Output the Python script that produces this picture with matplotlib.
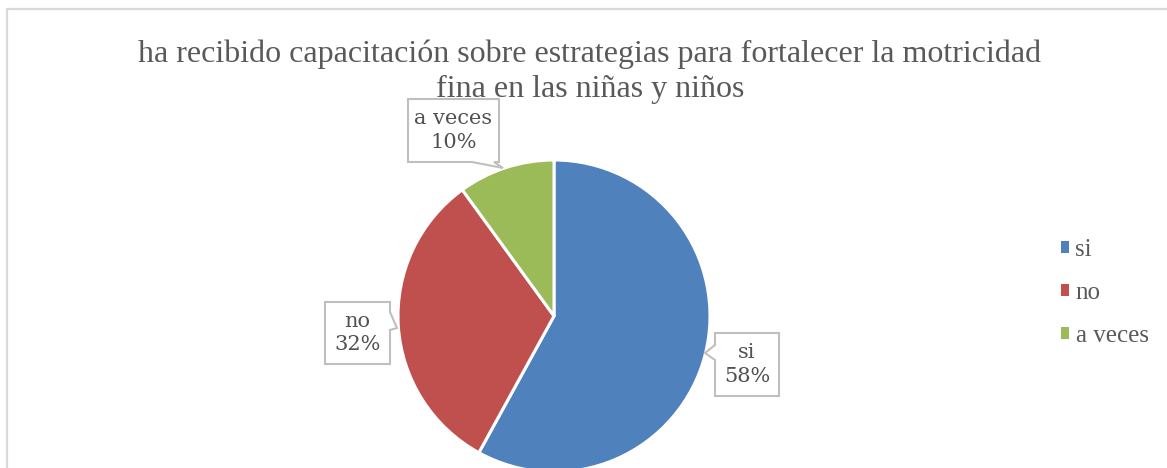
import matplotlib.pyplot as plt
from matplotlib.patches import Patch, Polygon, Rectangle

categories = ['si', 'no', 'a veces']
values = [58, 32, 10]
colors = ['#4F81BD', '#C0504D', '#9BBB59']
title = 'ha recibido capacitación sobre estrategias para fortalecer la motricidad\nfina en las niñas y niños'

W, H = 1167, 468
fig = plt.figure(figsize=(W / 100, H / 100), dpi=100)
ax = fig.add_axes([0, 0, 1, 1])

# chart frame (cut at the right and bottom edges)
ax.add_patch(Rectangle((7, -20), W + 40, H - 9 + 20, fill=False,
                       edgecolor='#D9D9D9', linewidth=1.6, clip_on=False))

wedges, _ = ax.pie(values, colors=colors, startangle=90, counterclock=False,
                   center=(554, H - 316), radius=156, frame=True,
                   wedgeprops=dict(edgecolor='white', linewidth=2.2))
ax.set_xlim(0, W)
ax.set_ylim(0, H)
ax.set_aspect('equal')
ax.axis('off')

fig.text(590 / W, 1 - 72 / H, title, ha='center', va='center',
         fontsize=23, family='Liberation Serif', color='#595959',
         linespacing=1.25)


def callout(box, side, base, tip, text):
    # box: (x0, y0, x1, y1) top-down pixel coords
    x0, y0, x1, y1 = box
    if side == 'bottom':
        pts = [(x0, y0), (x1, y0), (x1, y1), (base[1], y1), tip, (base[0], y1), (x0, y1)]
    elif side == 'right':
        pts = [(x0, y0), (x1, y0), (x1, base[0]), tip, (x1, base[1]), (x1, y1), (x0, y1)]
    else:
        pts = [(x0, y0), (x1, y0), (x1, y1), (x0, y1), (x0, base[1]), tip, (x0, base[0])]
    ax.add_patch(Polygon([(px, H - py) for px, py in pts], closed=True,
                         facecolor='white', edgecolor='#BFBFBF', linewidth=1.5))
    ax.text((x0 + x1) / 2, H - (y0 + y1) / 2, text, ha='center', va='center',
            fontsize=15, family='DejaVu Serif', color='#505050', linespacing=1.3)


pcts = ['%d%%' % v for v in values]
callout((715, 333, 779, 396), 'left', (345, 360), (705, 353), categories[0] + '\n' + pcts[0])
callout((325, 302, 390, 364), 'right', (312, 330), (397, 328), categories[1] + '\n' + pcts[1])
callout((408, 99, 499, 162), 'bottom', (472, 494), (503, 168), categories[2] + '\n' + pcts[2])

handles = [Patch(facecolor=c) for c in colors]
leg = ax.legend(handles, categories, loc='center left',
                bbox_to_anchor=(1038 / W, 1 - 293 / H), frameon=False,
                prop=dict(family='Liberation Serif', size=18),
                handlelength=0.35, handleheight=0.35, handletextpad=0.25,
                labelspacing=0.85)
for t in leg.get_texts():
    t.set_color('#595959')

fig.savefig('out.png', dpi=100)
